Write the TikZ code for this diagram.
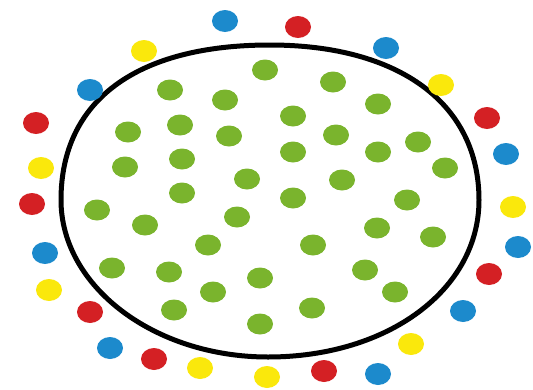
\documentclass[tikz,border=0pt]{standalone}
\usepackage{tikz}
\usetikzlibrary{calc}
\usepackage{xcolor}
\definecolor{dotG}{RGB}{122, 180, 45}
\definecolor{dotR}{RGB}{212, 32, 36}
\definecolor{dotB}{RGB}{28, 138, 204}
\definecolor{dotY}{RGB}{250, 232, 12}

\begin{document}
\begin{tikzpicture}[x=1pt, y=-1pt,
  dot/.style={fill=#1},
  ring/.style={line width=5pt, line join=round}]
  \useasboundingbox (0,0) rectangle (533,389);
  % boundary
  \draw[ring] (61,200) .. controls (61,100.8) and (136.2,45) .. (270,45)
    .. controls (399.6,45) and (479,103.9) .. (479,200)
    .. controls (479,289.5) and (388.3,357) .. (268,357)
    .. controls (154.2,357) and (61,286.4) .. cycle;
  % inside
  \foreach \x/\y in {265/70, 333/82, 170/90, 225/100, 378/104, 293/116,
    128/132, 180/125, 229/136, 336/135, 418/142, 378/152, 293/152,
    125/167, 182/159, 445/168, 247/179, 342/180, 182/193, 293/198,
    407/200, 97/210, 145/225, 237/217, 377/228, 433/237, 208/245,
    313/245, 112/268, 169/272, 260/278, 365/270, 395/292, 213/292,
    174/310, 312/308, 260/324} {
    \fill[dot=dotG] (\x,\y) ellipse [x radius=13pt, y radius=10.5pt];
  }
  % outside
  \foreach \x/\y/\c in {225/21/dotB, 298/27/dotR, 386/48/dotB, 144/51/dotY,
    441/85/dotY, 90/90/dotB, 487/118/dotR, 36/123/dotR, 506/154/dotB,
    41/168/dotY, 32/204/dotR, 513/207/dotY, 518/247/dotB, 45/253/dotB,
    489/274/dotR, 49/290/dotY, 90/312/dotR, 463/311/dotB, 411/344/dotY,
    110/348/dotB, 154/359/dotR, 200/368/dotY, 267/377/dotY, 324/371/dotR,
    378/374/dotB} {
    \fill[dot=\c] (\x,\y) ellipse [x radius=13pt, y radius=11pt];
  }
\end{tikzpicture}
\end{document}
